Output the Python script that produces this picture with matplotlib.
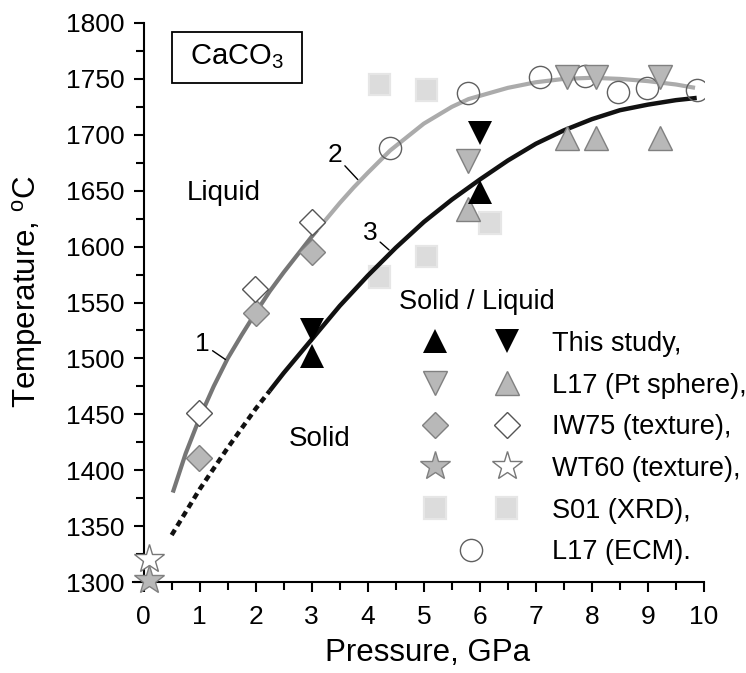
import matplotlib
matplotlib.use("Agg")
import matplotlib.pyplot as plt
from matplotlib.legend_handler import HandlerTuple
from matplotlib.patches import Rectangle
import matplotlib.patheffects as pe

plt.rcParams['font.family'] = ['Liberation Sans', 'DejaVu Sans']
plt.rcParams['mathtext.fontset'] = 'custom'
plt.rcParams['mathtext.rm'] = 'Liberation Sans'
plt.rcParams['mathtext.it'] = 'Liberation Sans:italic'

# ---------------- data ----------------
# Curve 1 (lower part of melting curve, darker gray)
curve1_P = [0.52, 0.75, 1.0, 1.25, 1.5, 1.75, 2.0, 2.25, 2.5, 2.75, 3.0, 3.1]
curve1_T = [1380, 1415, 1447, 1475, 1500, 1521, 1541, 1560, 1577, 1593, 1609, 1615]
# Curve 2 (upper part, light gray)
curve2_P = [3.1, 3.25, 3.5, 3.75, 4.0, 4.4, 5.0, 5.5, 5.8, 6.5, 7.0, 7.5, 8.0, 8.5, 9.0, 9.5, 9.84]
curve2_T = [1615, 1624, 1639, 1653, 1666, 1686, 1710, 1725, 1732, 1742, 1747, 1750, 1751, 1750, 1748, 1745, 1742]
# Curve 3 (black) dashed and solid parts
curve3d_P = [0.5, 1.0, 1.5, 2.0, 2.25]
curve3d_T = [1342, 1383, 1420, 1455, 1471]
curve3_P = [2.25, 2.5, 3.0, 3.5, 4.0, 4.5, 5.0, 5.5, 6.0, 6.5, 7.0, 7.5, 8.0, 8.5, 9.0, 9.5, 9.87]
curve3_T = [1471, 1487, 1517, 1547, 1574, 1599, 1622, 1642, 1660, 1677, 1692, 1704, 1714, 1722, 1727, 1731, 1733]

# This study
this_solid_P = [3.0, 6.0]
this_solid_T = [1502, 1649]
this_liquid_P = [3.0, 6.0]
this_liquid_T = [1525, 1702]
# L17 (Pt sphere)
l17_solid_P = [5.79, 7.55, 8.08, 9.21]
l17_solid_T = [1677, 1752, 1752, 1752]
l17_liquid_P = [5.79, 7.55, 8.08, 9.21]
l17_liquid_T = [1634, 1697, 1697, 1697]
# IW75 (texture)
iw_solid_P = [0.98, 2.0, 3.0]
iw_solid_T = [1411, 1541, 1595]
iw_liquid_P = [0.98, 1.98, 3.0]
iw_liquid_T = [1451, 1562, 1622]
# WT60 (texture)
wt_solid_P = [0.1]
wt_solid_T = [1302]
wt_liquid_P = [0.1]
wt_liquid_T = [1321]
# S01 (XRD)
s01_solid_P = [4.21, 5.05, 6.18]
s01_solid_T = [1573, 1591, 1621]
s01_liquid_P = [4.21, 5.05]
s01_liquid_T = [1745, 1740]
# L17 (ECM)
ecm_P = [4.39, 5.79, 7.07, 7.88, 8.46, 8.98, 9.87]
ecm_T = [1688, 1737, 1752, 1753, 1738, 1742, 1740]

legend_labels = ['This study,', 'L17 (Pt sphere),', 'IW75 (texture),',
                 'WT60 (texture),', 'S01 (XRD),', 'L17 (ECM).']

# ---------------- figure ----------------
fig = plt.figure(figsize=(7.46, 6.73), dpi=100)
ax = fig.add_axes([133/746, 1-582/673, 571/746, 559/673])

ax.plot(curve1_P, curve1_T, color='#767676', lw=3, zorder=2, solid_capstyle='butt')
ax.plot(curve2_P, curve2_T, color='#ababab', lw=3, zorder=2, solid_capstyle='butt')
ax.plot(curve3d_P, curve3d_T, color='#111111', lw=3.2, ls=(0, (1.4, 1.0)), zorder=2,
        dash_capstyle='butt')
ax.plot(curve3_P, curve3_T, color='#111111', lw=3.2, zorder=2, solid_capstyle='butt')

gfill = '#b8b8b8'
gedge = '#808080'
sq_eff = [pe.withStroke(linewidth=3, foreground='#e6e6e6')]

h_s01s, = ax.plot(s01_solid_P, s01_solid_T, 's', ms=14, color='#dcdcdc', mec='none',
                  zorder=1, path_effects=sq_eff)
h_s01l, = ax.plot(s01_liquid_P, s01_liquid_T, 's', ms=14, color='#dcdcdc', mec='none',
                  zorder=1, path_effects=sq_eff)

h_ecm, = ax.plot(ecm_P, ecm_T, 'o', ms=16, mfc='none', mec='#606060', mew=1.0, zorder=3)

h_l17s, = ax.plot(l17_solid_P, l17_solid_T, 'v', ms=17, mfc=gfill, mec=gedge, mew=1.0, zorder=3)
h_l17l, = ax.plot(l17_liquid_P, l17_liquid_T, '^', ms=17, mfc=gfill, mec=gedge, mew=1.0, zorder=3)

h_iws, = ax.plot(iw_solid_P, iw_solid_T, 'D', ms=13, mfc=gfill, mec=gedge, mew=1.0, zorder=3)
h_iwl, = ax.plot(iw_liquid_P, iw_liquid_T, 'D', ms=13, mfc='white', mec='#555555', mew=1.0, zorder=3)

h_wts, = ax.plot(wt_solid_P, wt_solid_T, '*', ms=22, mfc=gfill, mec=gedge, mew=1.0,
                 zorder=5, clip_on=False)
h_wtl, = ax.plot(wt_liquid_P, wt_liquid_T, '*', ms=22, mfc='white', mec='#777777', mew=1.0,
                 zorder=4, clip_on=False)

h_ths, = ax.plot(this_solid_P, this_solid_T, '^', ms=17, color='black', mew=0, zorder=4)
h_thl, = ax.plot(this_liquid_P, this_liquid_T, 'v', ms=17, color='black', mew=0, zorder=4)

# axes
ax.set_xlim(-0.19, 10)
ax.set_ylim(1300, 1800)
ax.spines['left'].set_position(('data', 0))
ax.spines['top'].set_visible(False)
ax.spines['right'].set_visible(False)
for s in ('left', 'bottom'):
    ax.spines[s].set_linewidth(1.5)
ax.set_xticks(range(0, 11))
ax.set_xticks([x + 0.5 for x in range(0, 10)], minor=True)
ax.set_yticks(range(1300, 1801, 50))
ax.set_yticks(range(1325, 1800, 50), minor=True)
ax.tick_params(which='major', direction='out', length=7.5, width=1.5, labelsize=19)
ax.tick_params(which='minor', direction='out', length=5.5, width=1.5)
ax.tick_params(axis='x', which='major', pad=9)
ax.tick_params(axis='y', which='major', pad=6)

ax.set_xlabel('Pressure, GPa', fontsize=22.5)
ax.xaxis.set_label_coords(0.515, -0.1)
ax.set_ylabel(r'Temperature, $^{\rm o}$C', fontsize=22.5)
ax.yaxis.set_label_coords(-0.154, 0.52)

# CaCO3 box
ax.add_patch(Rectangle((0.068, 0.893), 0.228, 0.091, transform=ax.transAxes,
                       fill=False, ec='black', lw=1.3, zorder=6))
ax.text(0.182, 0.939, r'CaCO$_3$', transform=ax.transAxes, fontsize=21,
        ha='center', va='center', zorder=6)

ax.text(1.43, 1648, 'Liquid', fontsize=20, ha='center', va='center')
ax.text(3.14, 1428, 'Solid', fontsize=20, ha='center', va='center')

arrow = dict(arrowstyle='-', color='black', lw=1.0, shrinkA=0, shrinkB=0)
ax.annotate('1', xy=(1.46, 1499), xytext=(1.05, 1513), fontsize=19,
            ha='center', va='center', arrowprops=arrow)
ax.annotate('2', xy=(3.82, 1660), xytext=(3.41, 1682), fontsize=19,
            ha='center', va='center', arrowprops=arrow)
ax.annotate('3', xy=(4.38, 1597), xytext=(4.04, 1612), fontsize=19,
            ha='center', va='center', arrowprops=arrow)

handles = [(h_ths, h_thl), (h_l17s, h_l17l), (h_iws, h_iwl), (h_wts, h_wtl),
           (h_s01s, h_s01l), h_ecm]
leg = ax.legend(handles, legend_labels,
                handler_map={tuple: HandlerTuple(ndivide=None, pad=0)},
                loc='upper left', bbox_to_anchor=(0.466, 0.524), frameon=False,
                title='Solid / Liquid', alignment='left', fontsize=19.5, title_fontsize=19.5,
                handlelength=5.3, handletextpad=0.33, borderpad=0, borderaxespad=0,
                labelspacing=0.58)

fig.savefig('out.png', dpi=100)
